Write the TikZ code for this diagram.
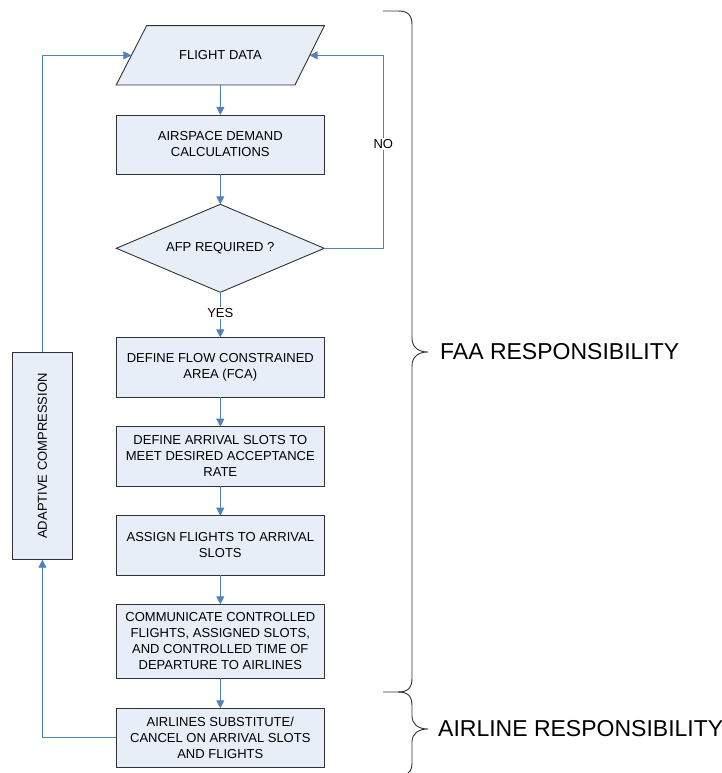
\documentclass[tikz,border=0pt]{standalone}
\usepackage{fontspec}
\setmainfont{Liberation Sans}
\usetikzlibrary{shapes.geometric,arrows.meta,calc,backgrounds}
\definecolor{boxfill}{RGB}{232,238,248}
\definecolor{linkblue}{RGB}{79,129,189}
\definecolor{edgegray}{RGB}{50,50,50}
\newcommand{\boxfont}{\fontsize{13}{16}\selectfont}
\newcommand{\bigfont}{\fontsize{23}{26}\selectfont}
\begin{document}
\begin{tikzpicture}[x=1pt,y=-1pt,
  box/.style={draw=edgegray, line width=0.9pt, fill=boxfill, minimum width=208pt, inner sep=0pt, outer sep=0pt, align=center, font=\boxfont},
  link/.style={draw=linkblue, line width=0.9pt, -{Triangle[width=8pt,length=8pt]}},
  plainlink/.style={draw=linkblue, line width=0.9pt},
  lbl/.style={fill=white, inner sep=1.5pt, font=\boxfont},
  bracestyle/.style={draw=edgegray, line width=0.9pt}]
\useasboundingbox (0,0) rectangle (722,773);

% flight data: text node whose east/west anchors lie on the slanted sides
\node[inner sep=0pt, outer sep=0pt, minimum width=178.2pt, minimum height=59.3pt, font=\boxfont, align=center] (fd) at (220.5,55.35) {FLIGHT DATA};
\begin{scope}[on background layer]
\draw[draw=edgegray, line width=0.9pt, fill=boxfill]
  ($(fd.north west)+(15.2,0)$) -- ($(fd.north east)+(14.8,0)$) -- ($(fd.south east)+(-14.6,0)$) -- ($(fd.south west)+(-15.2,0)$) -- cycle;
\end{scope}
\node[box, minimum height=59pt] (b2) at (220.3,144.5) {AIRSPACE DEMAND\\CALCULATIONS};
\node[box, shape=diamond, minimum width=208pt, minimum height=88pt, aspect=2.36] (dia) at (220.3,248.3) {AFP REQUIRED ?};
\node[box, minimum height=59.7pt] (b3) at (220.3,367.2) {DEFINE FLOW CONSTRAINED\\AREA (FCA)};
\node[box, minimum height=59.3pt] (b4) at (220.3,456.3) {DEFINE ARRIVAL SLOTS TO\\MEET DESIRED ACCEPTANCE\\RATE};
\node[box, minimum height=59.3pt] (b5) at (220.3,545.3) {ASSIGN FLIGHTS TO ARRIVAL\\SLOTS};
\node[box, minimum height=74pt] (b6) at (220.3,641.3) {COMMUNICATE CONTROLLED\\FLIGHTS, ASSIGNED SLOTS,\\AND CONTROLLED TIME OF\\DEPARTURE TO AIRLINES};
\node[box, minimum height=59pt] (b7) at (220.3,737.8) {AIRLINES SUBSTITUTE/\\CANCEL ON ARRIVAL SLOTS\\AND FLIGHTS};
\node[box, rotate=90, minimum width=207.4pt, minimum height=59.6pt] (ac) at (42.4,456) {ADAPTIVE COMPRESSION};

\draw[link] (fd.south) -- (b2.north);
\draw[link] (b2.south) -- (dia.north);
\draw[link] (dia.south) -- node[lbl, pos=0.46] {YES} (b3.north);
\draw[link] (b3.south) -- (b4.north);
\draw[link] (b4.south) -- (b5.north);
\draw[link] (b5.south) -- (b6.north);
\draw[link] (b6.south) -- (b7.north);

\coordinate (noturn) at (383.3,55.35);
\draw[plainlink] (dia.east) -| (noturn);
\draw[link] (noturn) -- (fd.east);
\node[lbl] (nolbl) at (383.3,144) {NO};

\draw[link] (ac.east) |- (fd.west);
\draw[link] (b7.west) -| (ac.west);

\draw[bracestyle] (383,11) -- (398,11) .. controls (408,11) and (412,15) .. (412,25) -- (412,338) .. controls (412,347) and (418,352) .. (428,352) .. controls (418,352) and (412,357) .. (412,366) -- (412,678) .. controls (412,688) and (408,692) .. (398,692) -- (383,692);
\draw[bracestyle] (398,692) .. controls (408,692) and (412,696) .. (412,706) -- (412,716) .. controls (412,724) and (418,729) .. (428,729) .. controls (418,729) and (412,734) .. (412,742) -- (412,763) .. controls (412,770) and (410,773) .. (404,775);

\node[anchor=west, font=\bigfont, inner sep=0pt] (faa) at (440,352) {FAA RESPONSIBILITY};
\node[anchor=west, font=\bigfont, inner sep=0pt] (airl) at (438,729) {AIRLINE RESPONSIBILITY};
\end{tikzpicture}
\end{document}
